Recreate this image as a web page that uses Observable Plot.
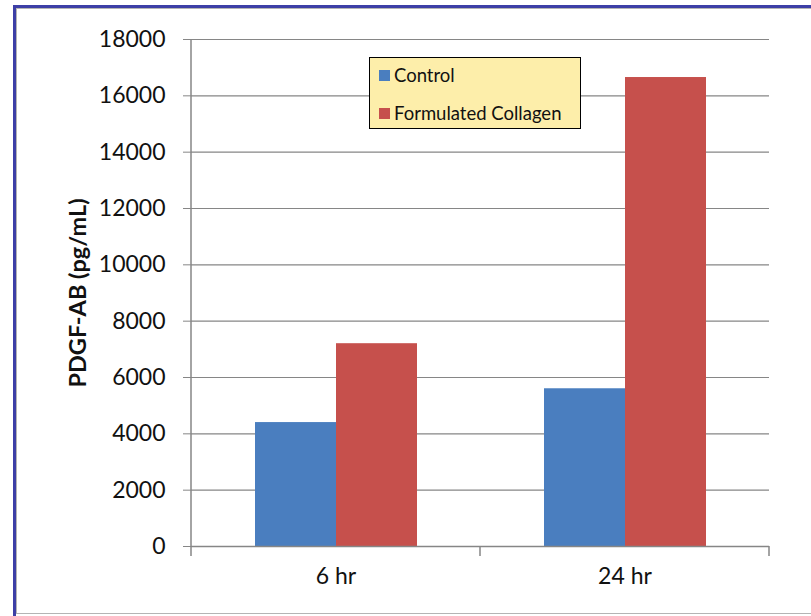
<!DOCTYPE html>
<html><head><meta charset="utf-8">
<script src="https://cdn.jsdelivr.net/npm/d3@7"></script>
<script src="https://cdn.jsdelivr.net/npm/@observablehq/plot@0.6"></script>
<style>
body{margin:0;background:#fff;}
#wrap{position:relative;width:811px;height:616px;overflow:hidden;font-family:Lato,sans-serif;background:#fff;}
#outer{position:absolute;left:13px;top:5px;width:830px;height:660px;border-left:3px solid #3d3fa6;border-top:3px solid #3d3fa6;}
#inner{position:absolute;left:16px;top:8px;width:830px;height:604px;border-left:1.5px solid #b4b4b4;border-top:1.5px solid #b4b4b4;border-bottom:1.5px solid #b4b4b4;}
#chart{position:absolute;left:0;top:0;}
#legend{position:absolute;left:369px;top:57px;width:212px;height:72px;background:#fdeeaa;border:1.5px solid #000;box-sizing:border-box;font-size:18.5px;color:#111;}
.item{position:absolute;left:9px;height:20px;display:flex;align-items:center;white-space:nowrap;}
.sw{width:11px;height:11px;margin-right:4px;}
</style></head>
<body>
<div id="wrap"><div id="outer"></div><div id="inner"></div><div id="chart"></div><div id="legend"></div></div>
<script>
const categories = ["6 hr", "24 hr"];
const seriesNames = ["Control", "Formulated Collagen"];
const controlValues = [4400, 5600];
const collagenValues = [7200, 16650];
const yTicks = [0, 2000, 4000, 6000, 8000, 10000, 12000, 14000, 16000, 18000];
const seriesColors = ["#4a7ebf", "#c6504c"];
const yTitle = "PDGF-AB (pg/mL)";

const data = categories.flatMap((c, i) => [
  {time: c, series: seriesNames[0], value: controlValues[i]},
  {time: c, series: seriesNames[1], value: collagenValues[i]}
]);

const plot = Plot.plot({
  width: 811, height: 616,
  marginLeft: 190, marginRight: 42, marginTop: 39, marginBottom: 70,
  style: {fontFamily: "Lato, sans-serif", fontSize: "23px", color: "#000", background: "transparent", overflow: "visible"},
  fx: {domain: categories, padding: 0, label: null},
  x: {domain: seriesNames, paddingInner: 0, paddingOuter: 0.77, axis: null},
  y: {domain: [0, 18000], axis: null},
  color: {domain: seriesNames, range: seriesColors},
  marks: [
    Plot.gridY(yTicks, {stroke: "#868686", strokeOpacity: 1, strokeWidth: 1.2}),
    Plot.barY(data, {fx: "time", x: "series", y: "value", fill: "series"}),
    Plot.ruleY([0], {stroke: "#868686", strokeWidth: 1.5}),
    Plot.axisY({ticks: yTicks, tickSize: 8, tickPadding: 18, stroke: "#868686", fill: "#111", label: null, tickFormat: d3.format("d")}),
    Plot.axisFx({anchor: "bottom", tickSize: 0, tickPadding: 21, label: null, fill: "#111"}),
    Plot.text([yTitle], {frameAnchor: "left", textAnchor: "middle", dx: -113, rotate: -90, fontWeight: "bold", fontSize: 23.5, fill: "#111", facetAnchor: "left"})
  ]
});
document.getElementById("chart").appendChild(plot);

// y axis line and category boundary ticks from the library's scales
const fx = plot.scale("fx"), y = plot.scale("y");
const svg = d3.select(plot);
const bw = fx.bandwidth;
const x0 = fx.apply(categories[0]);
const xs = categories.map(c => fx.apply(c)).concat([fx.apply(categories[categories.length - 1]) + bw]);
const yb = y.apply(0), yt = y.apply(yTicks[yTicks.length - 1]);
svg.append("line").attr("x1", x0).attr("x2", x0).attr("y1", yt).attr("y2", yb)
  .attr("stroke", "#868686").attr("stroke-width", 1.5);
svg.selectAll(".bt").data(xs).join("line").attr("x1", d => d).attr("x2", d => d)
  .attr("y1", yb).attr("y2", yb + 10).attr("stroke", "#868686").attr("stroke-width", 1.5);

// legend
const lg = d3.select("#legend");
seriesNames.forEach((s, i) => {
  const it = lg.append("div").attr("class", "item").style("top", (i === 0 ? 7 : 45) + "px");
  it.append("div").attr("class", "sw").style("background", seriesColors[i]);
  it.append("span").text(s);
});
</script>
</body></html>
